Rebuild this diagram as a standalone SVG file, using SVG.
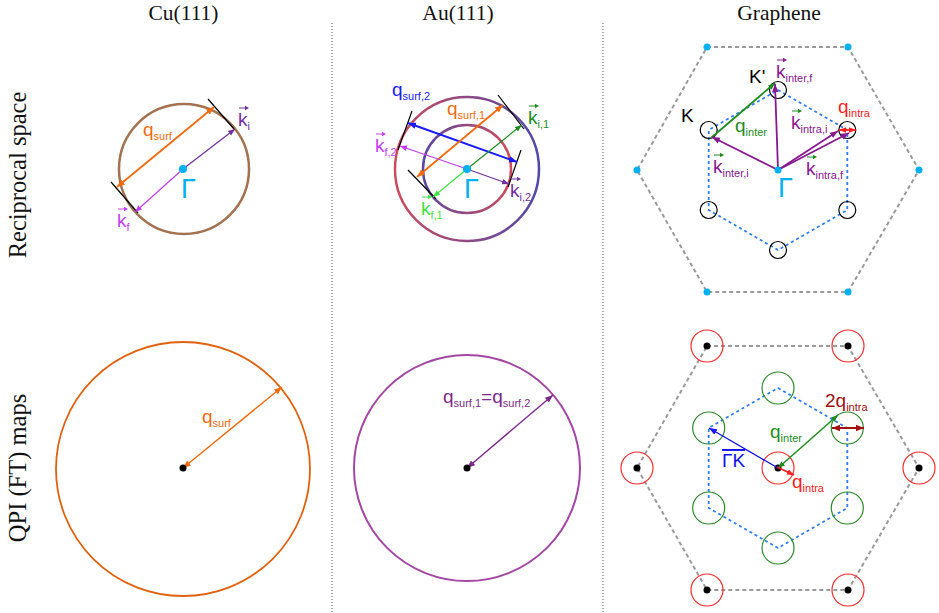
<svg xmlns="http://www.w3.org/2000/svg" width="939" height="613" viewBox="0 0 939 613">
<defs>
<style>
.hdr{font-family:"Liberation Serif","Times New Roman",serif;font-size:21.5px;text-anchor:middle;fill:#111}
.row{font-family:"Liberation Serif","Times New Roman",serif;font-size:24.5px;text-anchor:middle;fill:#111}
.lbl{font-family:"Liberation Sans",Arial,sans-serif;font-size:19px}
.sub{font-size:11px}
.gam{font-family:"Liberation Sans",Arial,sans-serif;font-size:27px;fill:#00b0f0}
.div{stroke:#555;stroke-width:1;stroke-dasharray:1 2;fill:none}
.tan{stroke:#000;stroke-width:1.2}
.gdash{fill:none;stroke:#9a9a9a;stroke-width:2;stroke-dasharray:4 3}
.bdash{fill:none;stroke:#2f7dff;stroke-width:1.8;stroke-dasharray:3 3}
.kc{fill:none;stroke:#000;stroke-width:1.2}
.rc{fill:none;stroke:#ff2a2a;stroke-width:1.2}
.gc{fill:none;stroke:#2a8a2a;stroke-width:1.2}
.cy{fill:#00b0f0}
</style>
<marker id="mO" viewBox="0 0 10 10" refX="10" refY="5" markerWidth="8" markerHeight="8" markerUnits="userSpaceOnUse" orient="auto-start-reverse"><path d="M0,1 L10,5 L0,9 z" fill="#f26b0f"/></marker>
<marker id="mP" viewBox="0 0 10 10" refX="10" refY="5" markerWidth="7" markerHeight="7" markerUnits="userSpaceOnUse" orient="auto-start-reverse"><path d="M0,1 L10,5 L0,9 z" fill="#7030a0"/></marker>
<marker id="mV" viewBox="0 0 10 10" refX="10" refY="5" markerWidth="7" markerHeight="7" markerUnits="userSpaceOnUse" orient="auto-start-reverse"><path d="M0,1 L10,5 L0,9 z" fill="#c040f0"/></marker>
<marker id="mB" viewBox="0 0 10 10" refX="10" refY="5" markerWidth="8" markerHeight="8" markerUnits="userSpaceOnUse" orient="auto-start-reverse"><path d="M0,1 L10,5 L0,9 z" fill="#1a1aff"/></marker>
<marker id="mG" viewBox="0 0 10 10" refX="10" refY="5" markerWidth="7" markerHeight="7" markerUnits="userSpaceOnUse" orient="auto-start-reverse"><path d="M0,1 L10,5 L0,9 z" fill="#1e8c1e"/></marker>
<marker id="mLG" viewBox="0 0 10 10" refX="10" refY="5" markerWidth="7" markerHeight="7" markerUnits="userSpaceOnUse" orient="auto-start-reverse"><path d="M0,1 L10,5 L0,9 z" fill="#3ee23e"/></marker>
<marker id="mM" viewBox="0 0 10 10" refX="10" refY="5" markerWidth="8" markerHeight="8" markerUnits="userSpaceOnUse" orient="auto-start-reverse"><path d="M0,1 L10,5 L0,9 z" fill="#88198f"/></marker>
<marker id="mR" viewBox="0 0 10 10" refX="10" refY="5" markerWidth="7" markerHeight="7" markerUnits="userSpaceOnUse" orient="auto-start-reverse"><path d="M0,1 L10,5 L0,9 z" fill="#ff2020"/></marker>
<marker id="mDR" viewBox="0 0 10 10" refX="10" refY="5" markerWidth="8" markerHeight="8" markerUnits="userSpaceOnUse" orient="auto-start-reverse"><path d="M0,1 L10,5 L0,9 z" fill="#a01010"/></marker>
<marker id="mA" viewBox="0 0 10 10" refX="10" refY="5" markerWidth="8" markerHeight="8" markerUnits="userSpaceOnUse" orient="auto-start-reverse"><path d="M0,1 L10,5 L0,9 z" fill="#7b2a8a"/></marker>
<linearGradient id="gOut" x1="0" y1="0" x2="1" y2="0"><stop offset="0" stop-color="#cc4c5c"/><stop offset="1" stop-color="#5048a8"/></linearGradient>
<linearGradient id="gIn" x1="0" y1="0" x2="1" y2="0"><stop offset="0" stop-color="#5a48a0"/><stop offset="1" stop-color="#cc4c5c"/></linearGradient>
</defs>
<rect width="939" height="613" fill="#fff"/>

<g id="headers">
<text class="hdr" x="183.5" y="20">Cu(111)</text>
<text class="hdr" x="458" y="20">Au(111)</text>
<text class="hdr" x="779" y="20">Graphene</text>
<text class="row" transform="translate(26,175) rotate(-90)">Reciprocal space</text>
<text class="row" transform="translate(26,468) rotate(-90)">QPI (FT) maps</text>
</g>
<g id="dividers">
<line class="div" x1="332" y1="23" x2="332" y2="613"/>
<line class="div" x1="603" y1="23" x2="603" y2="613"/>
</g>

<!-- Cu(111) reciprocal -->
<g id="cu-top">
<circle cx="184" cy="169" r="65" fill="none" stroke="#a37250" stroke-width="2.5"/>
<line class="tan" x1="208" y1="99" x2="234" y2="129"/>
<line class="tan" x1="111" y1="182" x2="138" y2="213"/>
<line x1="214" y1="107" x2="117" y2="187" stroke="#f26b0f" stroke-width="1.8" marker-start="url(#mO)" marker-end="url(#mO)"/>
<line x1="183" y1="169" x2="235" y2="129" stroke="#7030a0" stroke-width="1.2" marker-end="url(#mP)"/>
<line x1="183" y1="169" x2="135" y2="212" stroke="#c040f0" stroke-width="1.2" marker-end="url(#mV)"/>
<circle class="cy" cx="183" cy="169" r="4"/>
<text class="gam" x="181" y="198">Γ</text>
<text class="lbl" x="143" y="136" fill="#f26b0f">q<tspan class="sub" dy="4">surf</tspan></text>
<text class="lbl" x="238" y="126" fill="#7030a0">k<tspan class="sub" dy="4">i</tspan></text>
<path d="M239,108 h8" stroke="#7030a0" stroke-width="1"/><path d="M245,105.8 L249,108 L245,110.2 z" fill="#7030a0"/>
<text class="lbl" x="117" y="227" fill="#c040f0">k<tspan class="sub" dy="4">f</tspan></text>
<path d="M118,209 h8" stroke="#c040f0" stroke-width="1"/><path d="M124,206.8 L128,209 L124,211.2 z" fill="#c040f0"/>
</g>

<!-- Au(111) reciprocal -->
<g id="au-top">
<circle cx="467" cy="169" r="72" fill="none" stroke="url(#gOut)" stroke-width="2.5"/>
<circle cx="467" cy="169" r="44" fill="none" stroke="url(#gIn)" stroke-width="2.5"/>
<line class="tan" x1="498" y1="95" x2="524" y2="129"/>
<line class="tan" x1="412" y1="111" x2="398" y2="150"/>
<line class="tan" x1="408" y1="170" x2="436" y2="199"/>
<line class="tan" x1="521" y1="150" x2="508" y2="187"/>
<line x1="408" y1="123" x2="517" y2="162" stroke="#1a1aff" stroke-width="2" marker-start="url(#mB)" marker-end="url(#mB)"/>
<line x1="503" y1="105" x2="417" y2="177" stroke="#f26b0f" stroke-width="1.8" marker-start="url(#mO)" marker-end="url(#mO)"/>
<line x1="467" y1="169" x2="400" y2="146" stroke="#c040f0" stroke-width="1.2" marker-end="url(#mV)"/>
<line x1="467" y1="169" x2="509" y2="184" stroke="#7030a0" stroke-width="1.2" marker-end="url(#mP)"/>
<line x1="467" y1="169" x2="521.7" y2="125" stroke="#1e8c1e" stroke-width="1.2" marker-end="url(#mG)"/>
<line x1="467" y1="169" x2="433" y2="197" stroke="#3ee23e" stroke-width="1.2" marker-end="url(#mLG)"/>
<circle class="cy" cx="467" cy="169" r="4"/>
<text class="gam" x="464" y="198">Γ</text>
<text class="lbl" x="392" y="96" fill="#1a1aff">q<tspan class="sub" dy="4">surf,2</tspan></text>
<text class="lbl" x="447" y="115" fill="#f26b0f">q<tspan class="sub" dy="4">surf,1</tspan></text>
<text class="lbl" x="528" y="124" fill="#1e8c1e">k<tspan class="sub" dy="4">i,1</tspan></text>
<path d="M529,106 h8" stroke="#1e8c1e" stroke-width="1"/><path d="M535,103.8 L539,106 L535,108.2 z" fill="#1e8c1e"/>
<text class="lbl" x="375" y="152" fill="#c040f0">k<tspan class="sub" dy="4">f,2</tspan></text>
<path d="M376,134 h8" stroke="#c040f0" stroke-width="1"/><path d="M382,131.8 L386,134 L382,136.2 z" fill="#c040f0"/>
<text class="lbl" x="510" y="197" fill="#7030a0">k<tspan class="sub" dy="4">i,2</tspan></text>
<path d="M511,179 h8" stroke="#7030a0" stroke-width="1"/><path d="M517,176.8 L521,179 L517,181.2 z" fill="#7030a0"/>
<text class="lbl" x="421" y="215" fill="#3ee23e">k<tspan class="sub" dy="4">f,1</tspan></text>
<path d="M422,197 h8" stroke="#3ee23e" stroke-width="1"/><path d="M428,194.8 L432,197 L428,199.2 z" fill="#3ee23e"/>
</g>

<!-- Graphene reciprocal -->
<g id="gr-top">
<polygon class="gdash" points="707,47 848,47 919,170 848,292 707,292 637,170"/>
<g class="cy">
<circle cx="707" cy="47" r="3.5"/><circle cx="848" cy="47" r="3.5"/><circle cx="919" cy="170" r="3.5"/>
<circle cx="848" cy="292" r="3.5"/><circle cx="707" cy="292" r="3.5"/><circle cx="637" cy="170" r="3.5"/>
</g>
<polygon class="bdash" points="778,90 847.3,130 847.3,210 778,250 708.7,210 708.7,130"/>
<circle class="kc" cx="778" cy="90" r="8.5"/><circle class="kc" cx="847.3" cy="130" r="8.5"/><circle class="kc" cx="847.3" cy="210" r="8.5"/>
<circle class="kc" cx="778" cy="250" r="8.5"/><circle class="kc" cx="708.7" cy="210" r="8.5"/><circle class="kc" cx="708.7" cy="130" r="8.5"/>
<line x1="711" y1="138" x2="775" y2="83" stroke="#1e8c1e" stroke-width="1.8" marker-end="url(#mG)"/>
<line x1="778" y1="170" x2="712" y2="137" stroke="#88198f" stroke-width="1.8" marker-end="url(#mM)"/>
<line x1="778" y1="170" x2="775" y2="84" stroke="#88198f" stroke-width="1.8" marker-end="url(#mM)"/>
<line x1="778" y1="170" x2="838" y2="131" stroke="#88198f" stroke-width="1.8" marker-end="url(#mM)"/>
<line x1="778" y1="170" x2="849" y2="133" stroke="#88198f" stroke-width="1.8" marker-end="url(#mM)"/>
<line x1="839" y1="130" x2="856" y2="130" stroke="#ff2020" stroke-width="1.8" marker-start="url(#mR)" marker-end="url(#mR)"/>
<circle class="cy" cx="778" cy="170" r="3.5"/>
<text class="gam" x="778" y="197">Γ</text>
<text class="lbl" x="681" y="122" font-size="21" fill="#000">K</text>
<text class="lbl" x="749" y="83" font-size="21" fill="#000">K'</text>
<text class="lbl" x="735" y="132" fill="#1e8c1e">q<tspan class="sub" dy="4">inter</tspan></text>
<text class="lbl" x="838" y="113" fill="#ff2020">q<tspan class="sub" dy="4">intra</tspan></text>
<text class="lbl" x="776" y="78" fill="#88198f">k<tspan class="sub" dy="4">inter,f</tspan></text>
<path d="M777,60 h8" stroke="#88198f" stroke-width="1"/><path d="M783,57.8 L787,60 L783,62.2 z" fill="#88198f"/>
<text class="lbl" x="791" y="129" fill="#88198f">k<tspan class="sub" dy="4">intra,i</tspan></text>
<path d="M792,111 h8" stroke="#1e8c1e" stroke-width="1"/><path d="M798,108.8 L802,111 L798,113.2 z" fill="#1e8c1e"/>
<text class="lbl" x="713" y="173" fill="#88198f">k<tspan class="sub" dy="4">inter,i</tspan></text>
<path d="M714,155 h8" stroke="#1e8c1e" stroke-width="1"/><path d="M720,152.8 L724,155 L720,157.2 z" fill="#1e8c1e"/>
<text class="lbl" x="806" y="175" fill="#88198f">k<tspan class="sub" dy="4">intra,f</tspan></text>
<path d="M807,157 h8" stroke="#1e8c1e" stroke-width="1"/><path d="M813,154.8 L817,157 L813,159.2 z" fill="#1e8c1e"/>
</g>

<!-- Cu(111) QPI -->
<g id="cu-bottom">
<circle cx="183" cy="469" r="127" fill="none" stroke="#e0620f" stroke-width="1.8"/>
<line x1="183" y1="468" x2="282" y2="387" stroke="#f26b0f" stroke-width="1.4" marker-start="url(#mO)" marker-end="url(#mO)"/>
<circle cx="183" cy="468" r="3.5" fill="#000"/>
<text class="lbl" x="202" y="423" fill="#f26b0f">q<tspan class="sub" dy="4">surf</tspan></text>
</g>

<!-- Au(111) QPI -->
<g id="au-bottom">
<circle cx="467" cy="468" r="113" fill="none" stroke="#a347a3" stroke-width="2"/>
<line x1="467" y1="468" x2="553" y2="395" stroke="#7b2a8a" stroke-width="1.4" marker-start="url(#mA)" marker-end="url(#mA)"/>
<circle cx="467" cy="468" r="3.5" fill="#000"/>
<text class="lbl" x="443" y="403" fill="#7b2a8a">q<tspan class="sub" dy="4">surf,1</tspan><tspan dy="-4">=q</tspan><tspan class="sub" dy="4">surf,2</tspan></text>
</g>

<!-- Graphene QPI -->
<g id="gr-bottom">
<polygon class="gdash" points="707,346 848,346 919,468 848,590 707,590 637,468"/>
<polygon class="bdash" points="778,388 847.3,428 847.3,508 778,548 708.7,508 708.7,428"/>
<circle class="rc" cx="707" cy="346" r="16"/><circle class="rc" cx="848" cy="346" r="16"/><circle class="rc" cx="919" cy="468" r="16"/>
<circle class="rc" cx="848" cy="590" r="16"/><circle class="rc" cx="707" cy="590" r="16"/><circle class="rc" cx="637" cy="468" r="16"/>
<circle class="rc" cx="778" cy="468" r="16"/>
<circle class="gc" cx="778" cy="388" r="16"/><circle class="gc" cx="847.3" cy="428" r="16"/><circle class="gc" cx="847.3" cy="508" r="16"/>
<circle class="gc" cx="778" cy="548" r="16"/><circle class="gc" cx="708.7" cy="508" r="16"/><circle class="gc" cx="708.7" cy="428" r="16"/>
<g fill="#000">
<circle cx="707" cy="346" r="3.5"/><circle cx="848" cy="346" r="3.5"/><circle cx="919" cy="468" r="3.5"/>
<circle cx="848" cy="590" r="3.5"/><circle cx="707" cy="590" r="3.5"/><circle cx="637" cy="468" r="3.5"/>
<circle cx="778" cy="468" r="3.5"/>
</g>
<line x1="778" y1="468" x2="709" y2="428" stroke="#1010ee" stroke-width="1.3" marker-end="url(#mB)"/>
<line x1="778" y1="468" x2="838" y2="415" stroke="#1e8c1e" stroke-width="1.5" marker-start="url(#mG)" marker-end="url(#mG)"/>
<line x1="832" y1="428" x2="864" y2="428" stroke="#a01010" stroke-width="2" marker-start="url(#mDR)" marker-end="url(#mDR)"/>
<line x1="777" y1="467" x2="794" y2="475" stroke="#ff2020" stroke-width="1.8" marker-end="url(#mR)"/>
<text class="lbl" x="825" y="407" font-size="21" fill="#a01010">2q<tspan class="sub" dy="4">intra</tspan></text>
<text class="lbl" x="770" y="438" fill="#1e8c1e">q<tspan class="sub" dy="4">inter</tspan></text>
<text class="lbl" x="722" y="467" font-size="21" fill="#1010ee" style="text-decoration:overline">ΓK</text>
<text class="lbl" x="792" y="488" fill="#ff2020">q<tspan class="sub" dy="4">intra</tspan></text>
</g>
</svg>
